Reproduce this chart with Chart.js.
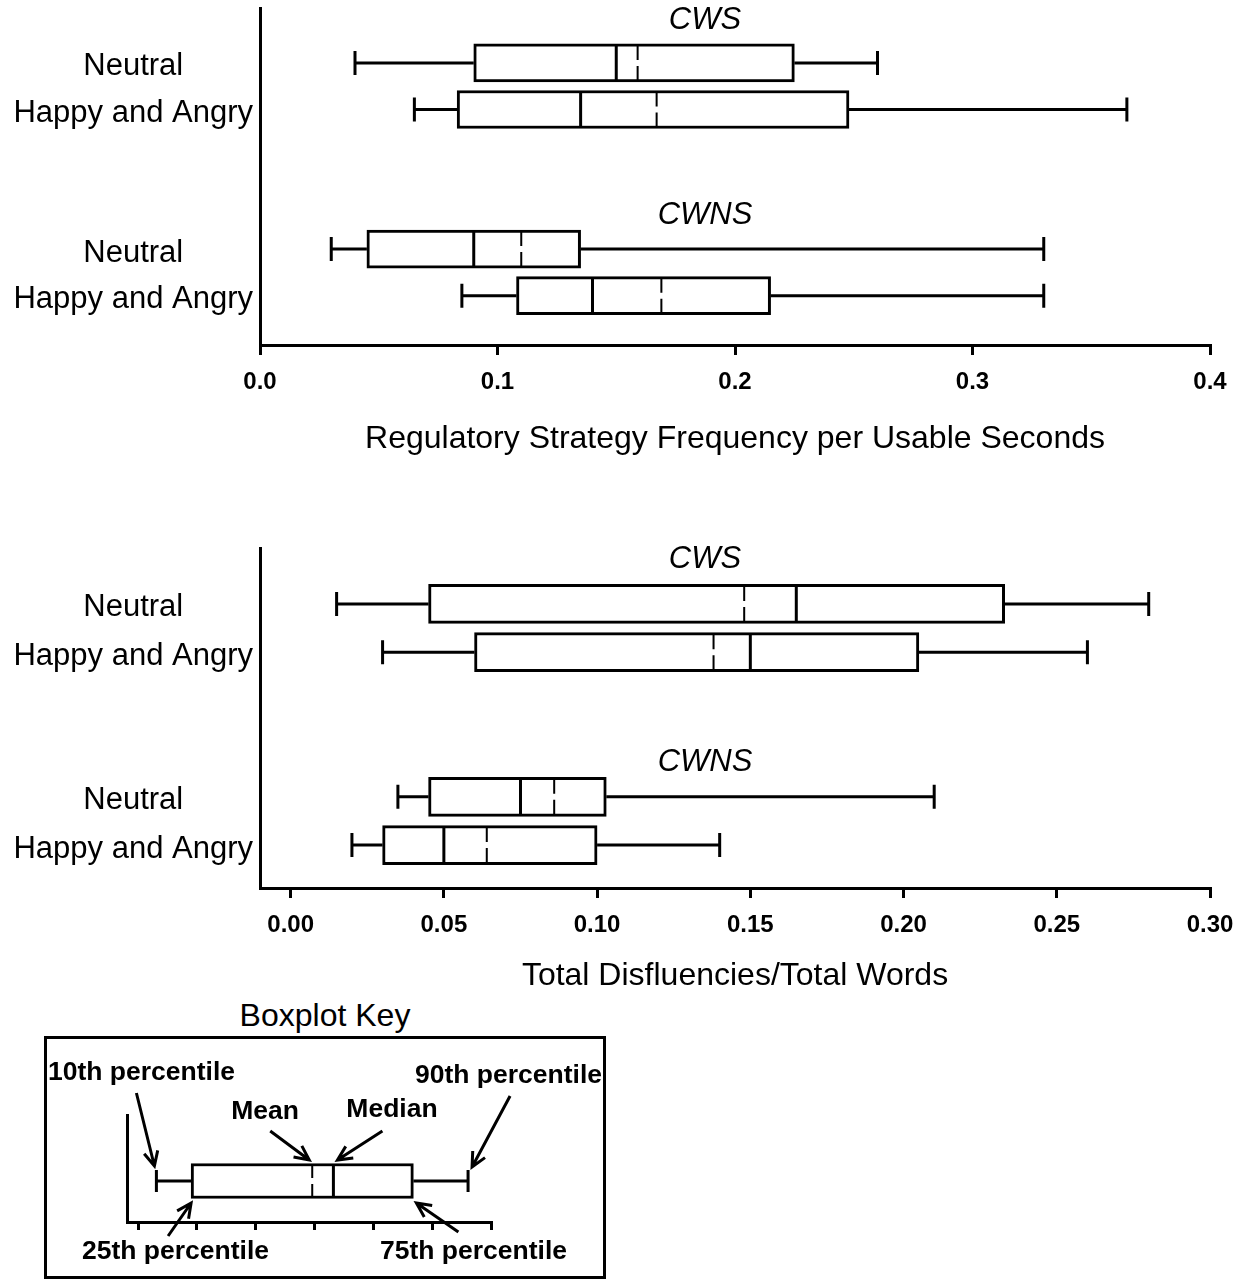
<!DOCTYPE html>
<html>
<head>
<meta charset="utf-8">
<script src="https://cdn.jsdelivr.net/npm/chart.js@4.4.1/dist/chart.umd.min.js"></script>
<style>
    body { margin: 0; background: #fff; width: 1249px; height: 1279px; position: relative; overflow: hidden;
           font-family: "Liberation Sans", Arial, sans-serif; }
    canvas { position: absolute; }
    #keyBox { position: absolute; left: 44px; top: 1036px; width: 562px; height: 243px;
              border: 3px solid #000; box-sizing: border-box; }
    #keyTitle { position: absolute; left: 175px; width: 300px; top: 997px; text-align: center;
                font-size: 32px; color: #000; }
</style>
</head>
<body>
<div id="keyBox"></div>
<div id="keyTitle">Boxplot Key</div>
<canvas id="graficaReg" width="1249" height="465" style="left:0;top:0"></canvas>
<canvas id="graficaDis" width="1249" height="468" style="left:0;top:540px"></canvas>
<canvas id="graficaKey" width="620" height="289" style="left:0;top:990px"></canvas>

<script>
/* =========================================================
    DATOS
========================================================= */

// filas: Neutral CWS, Happy CWS, Neutral CWNS, Happy CWNS
const rowSlots = [1, 2, 5, 6];
const rowLabels = ["Neutral", "Happy and Angry", "Neutral", "Happy and Angry"];
const groupNames = ["CWS", "CWNS"];

// Regulatory Strategy Frequency per Usable Seconds
const reg10 = [0.040, 0.065, 0.030, 0.085];
const reg25 = [0.090, 0.083, 0.045, 0.108];
const regMed = [0.150, 0.135, 0.090, 0.140];
const regMean = [0.159, 0.167, 0.110, 0.169];
const reg75 = [0.225, 0.248, 0.135, 0.215];
const reg90 = [0.260, 0.365, 0.330, 0.330];
const regTicks = [0, 0.1, 0.2, 0.3, 0.4];

// Total Disfluencies/Total Words
const dis10 = [0.015, 0.030, 0.035, 0.020];
const dis25 = [0.045, 0.060, 0.045, 0.030];
const disMed = [0.165, 0.150, 0.075, 0.050];
const disMean = [0.148, 0.138, 0.086, 0.064];
const dis75 = [0.233, 0.205, 0.103, 0.100];
const dis90 = [0.280, 0.260, 0.210, 0.140];
const disTicks = [0, 0.05, 0.10, 0.15, 0.20, 0.25, 0.30];

// Boxplot Key (ejemplo)
const key10 = [0.31];
const key25 = [0.9];
const keyMed = [3.32];
const keyMean = [2.96];
const key75 = [4.68];
const key90 = [5.61];
const keyTicks = [0, 1, 2, 3, 4, 5, 6];

/* =========================================================
    UTILIDADES
========================================================= */

Chart.defaults.font.family = '"Liberation Sans", Arial, sans-serif';
Chart.defaults.color = "#000";

// bigotes, mediana y media sobre las barras flotantes
function boxExtras(st) {
    return {
        id: "boxExtras",
        beforeDatasetsDraw(chart) {
            const { ctx, scales: { x, y } } = chart;
            ctx.save();
            ctx.strokeStyle = "#000";
            ctx.lineWidth = 3;
            st.slots.forEach((s, i) => {
                const cy = y.getPixelForValue(s);
                const a = x.getPixelForValue(st.p10[i]);
                const b = x.getPixelForValue(st.q1[i]);
                const c = x.getPixelForValue(st.q3[i]);
                const d = x.getPixelForValue(st.p90[i]);
                ctx.beginPath();
                ctx.moveTo(a, cy); ctx.lineTo(b, cy);
                ctx.moveTo(c, cy); ctx.lineTo(d, cy);
                ctx.moveTo(a, cy - st.cap); ctx.lineTo(a, cy + st.cap);
                ctx.moveTo(d, cy - st.cap); ctx.lineTo(d, cy + st.cap);
                ctx.stroke();
            });
            ctx.restore();
        },
        afterDatasetsDraw(chart) {
            const { ctx, scales: { x, y }, chartArea } = chart;
            const h = st.thick / 2 - 1.5;
            ctx.save();
            ctx.strokeStyle = "#000";
            st.slots.forEach((s, i) => {
                const cy = y.getPixelForValue(s);
                const m = x.getPixelForValue(st.med[i]);
                const u = x.getPixelForValue(st.mean[i]);
                ctx.lineWidth = 3;
                ctx.beginPath();
                ctx.moveTo(m, cy - h); ctx.lineTo(m, cy + h);
                ctx.stroke();
                // media: linea con un corte al centro
                ctx.lineWidth = 2;
                ctx.beginPath();
                ctx.moveTo(u, cy - h); ctx.lineTo(u, cy - 3);
                ctx.moveTo(u, cy + 3); ctx.lineTo(u, cy + h);
                ctx.stroke();
            });
            if (st.headers) {
                ctx.fillStyle = "#000";
                ctx.font = 'italic 31px "Liberation Sans", Arial, sans-serif';
                ctx.textAlign = "center";
                ctx.textBaseline = "middle";
                st.headers.forEach((t, i) => {
                    ctx.fillText(t, chartArea.left + 445, y.getPixelForValue(st.headerAt[i]));
                });
            }
            ctx.restore();
        }
    };
}

function arrow(ctx, x0, y0, x1, y1) {
    const a = Math.atan2(y1 - y0, x1 - x0), L = 16, w = 0.45;
    ctx.beginPath();
    ctx.moveTo(x0, y0); ctx.lineTo(x1, y1);
    ctx.moveTo(x1 - L * Math.cos(a - w), y1 - L * Math.sin(a - w));
    ctx.lineTo(x1, y1);
    ctx.lineTo(x1 - L * Math.cos(a + w), y1 - L * Math.sin(a + w));
    ctx.stroke();
}

function boxChart(id, q1, q3, thick, xOpts, yOpts, padding, plugins) {
    return new Chart(document.getElementById(id), {
        type: "bar",
        data: {
            datasets: [{
                data: q1.map((v, i) => ({ x: [v, q3[i]], y: xOpts.slots[i] })),
                backgroundColor: "#fff",
                borderColor: "#000",
                borderWidth: 3,
                borderSkipped: false,
                barThickness: thick
            }]
        },
        options: {
            indexAxis: "y",
            responsive: false,
            animation: false,
            events: [],
            layout: { padding },
            plugins: { legend: { display: false }, tooltip: { enabled: false } },
            scales: { x: xOpts.scale, y: yOpts }
        },
        plugins
    });
}

function xAxis(min, max, ticks, fmt, title, titlePad) {
    return {
        type: "linear", min, max,
        afterBuildTicks: s => { s.ticks = ticks.map(v => ({ value: v })); },
        afterFit: s => { s.height = 120; },
        grid: { display: true, drawOnChartArea: false, drawTicks: true, tickLength: 10, lineWidth: 3, color: "#000" },
        border: { display: true, width: 3, color: "#000" },
        ticks: { color: "#000", font: { size: 24, weight: "bold" }, padding: 13, maxRotation: 0, autoSkip: false,
                 callback: v => Number(v).toFixed(fmt) },
        title: { display: true, text: title, color: "#000", font: { size: 32 }, padding: { top: 0, bottom: titlePad } }
    };
}

function yAxis(min, max) {
    return {
        type: "linear", reverse: true, min, max, offset: false,
        afterBuildTicks: s => { s.ticks = rowSlots.map(v => ({ value: v })); },
        afterFit: s => { s.width = 260; s.paddingTop = 0; s.paddingBottom = 0; },
        grid: { display: false, drawTicks: false },
        border: { display: true, width: 3, color: "#000" },
        ticks: { color: "#000", font: { size: 31 }, padding: 7, labelOffset: 4, crossAlign: "center", autoSkip: false,
                 callback: v => rowLabels[rowSlots.indexOf(v)] }
    };
}

/* =====================================================
    GRAFICA: REGULATORY STRATEGY
===================================================== */
boxChart("graficaReg", reg25, reg75, 38,
    { slots: rowSlots, scale: xAxis(0, 0.4, regTicks, 1, "Regulatory Strategy Frequency per Usable Seconds", 7) },
    yAxis(-0.18, 7.06),
    { top: 8, right: 39, left: 0, bottom: 0 },
    [boxExtras({ slots: rowSlots, p10: reg10, q1: reg25, med: regMed, mean: regMean, q3: reg75, p90: reg90,
                 cap: 12, thick: 38, headers: groupNames, headerAt: [0.08, 4.28] })]
);

/* =====================================================
    GRAFICA: DISFLUENCIES
===================================================== */
boxChart("graficaDis", dis25, dis75, 39,
    { slots: rowSlots, scale: xAxis(-0.01, 0.30, disTicks, 2, "Total Disfluencies/Total Words", 13) },
    yAxis(-0.16, 6.89),
    { top: 8, right: 39, left: 0, bottom: 0 },
    [boxExtras({ slots: rowSlots, p10: dis10, q1: dis25, med: disMed, mean: disMean, q3: dis75, p90: dis90,
                 cap: 12, thick: 39, headers: groupNames, headerAt: [0.08, 4.28] })]
);

/* =====================================================
    BOXPLOT KEY
===================================================== */
const keyArrows = {
    id: "keyArrows",
    afterDatasetsDraw(chart) {
        const { ctx, scales: { x, y } } = chart;
        const cy = y.getPixelForValue(1);
        const X = v => x.getPixelForValue(v);
        ctx.save();
        ctx.strokeStyle = "#000";
        ctx.lineWidth = 3;
        const tips = [
            [X(key10[0]) - 2, cy - 15, -18, -73],
            [X(key90[0]) + 4, cy - 14, 38, -71],
            [X(keyMean[0]) - 3, cy - 21, -39, -29],
            [X(keyMed[0]) + 4, cy - 21, 45, -29],
            [X(key25[0]), cy + 22, -23, 33],
            [X(key75[0]) + 3, cy + 22, 42, 29]
        ];
        tips.forEach(t => arrow(ctx, t[0] + t[2], t[1] + t[3], t[0], t[1]));

        ctx.fillStyle = "#000";
        ctx.font = 'bold 26.5px "Liberation Sans", Arial, sans-serif';
        ctx.textBaseline = "middle";
        ctx.textAlign = "left";
        ctx.fillText("10th percentile", 48, 83);
        ctx.fillText("25th percentile", 82, 262);
        ctx.fillText("75th percentile", 380, 262);
        ctx.textAlign = "right";
        ctx.fillText("90th percentile", 602, 86);
        ctx.textAlign = "center";
        ctx.fillText("Mean", 265, 122);
        ctx.fillText("Median", 392, 120);
        ctx.restore();
    }
};

new Chart(document.getElementById("graficaKey"), {
    type: "bar",
    data: {
        datasets: [{
            data: key25.map((v, i) => ({ x: [v, key75[i]], y: 1 })),
            backgroundColor: "#fff",
            borderColor: "#000",
            borderWidth: 3,
            borderSkipped: false,
            barThickness: 35
        }]
    },
    options: {
        indexAxis: "y",
        responsive: false,
        animation: false,
        events: [],
        layout: { padding: { left: 127, right: 129, top: 125, bottom: 0 } },
        plugins: { legend: { display: false }, tooltip: { enabled: false } },
        scales: {
            x: {
                type: "linear", min: -0.19, max: 6,
                afterBuildTicks: s => { s.ticks = keyTicks.map(v => ({ value: v })); },
                afterFit: s => { s.height = 57; s.paddingLeft = 0; s.paddingRight = 0; },
                grid: { display: true, drawOnChartArea: false, drawTicks: true, tickLength: 8, lineWidth: 3, color: "#000" },
                border: { display: true, width: 3, color: "#000" },
                ticks: { display: false }
            },
            y: {
                type: "linear", reverse: true, min: 0, max: 1.621, offset: false,
                afterFit: s => { s.width = 0; s.paddingTop = 0; s.paddingBottom = 0; },
                grid: { display: false, drawTicks: false },
                border: { display: true, width: 3, color: "#000" },
                ticks: { display: false }
            }
        }
    },
    plugins: [
        boxExtras({ slots: [1], p10: key10, q1: key25, med: keyMed, mean: keyMean, q3: key75, p90: key90,
                    cap: 11, thick: 35 }),
        keyArrows
    ]
});
</script>
</body>
</html>
